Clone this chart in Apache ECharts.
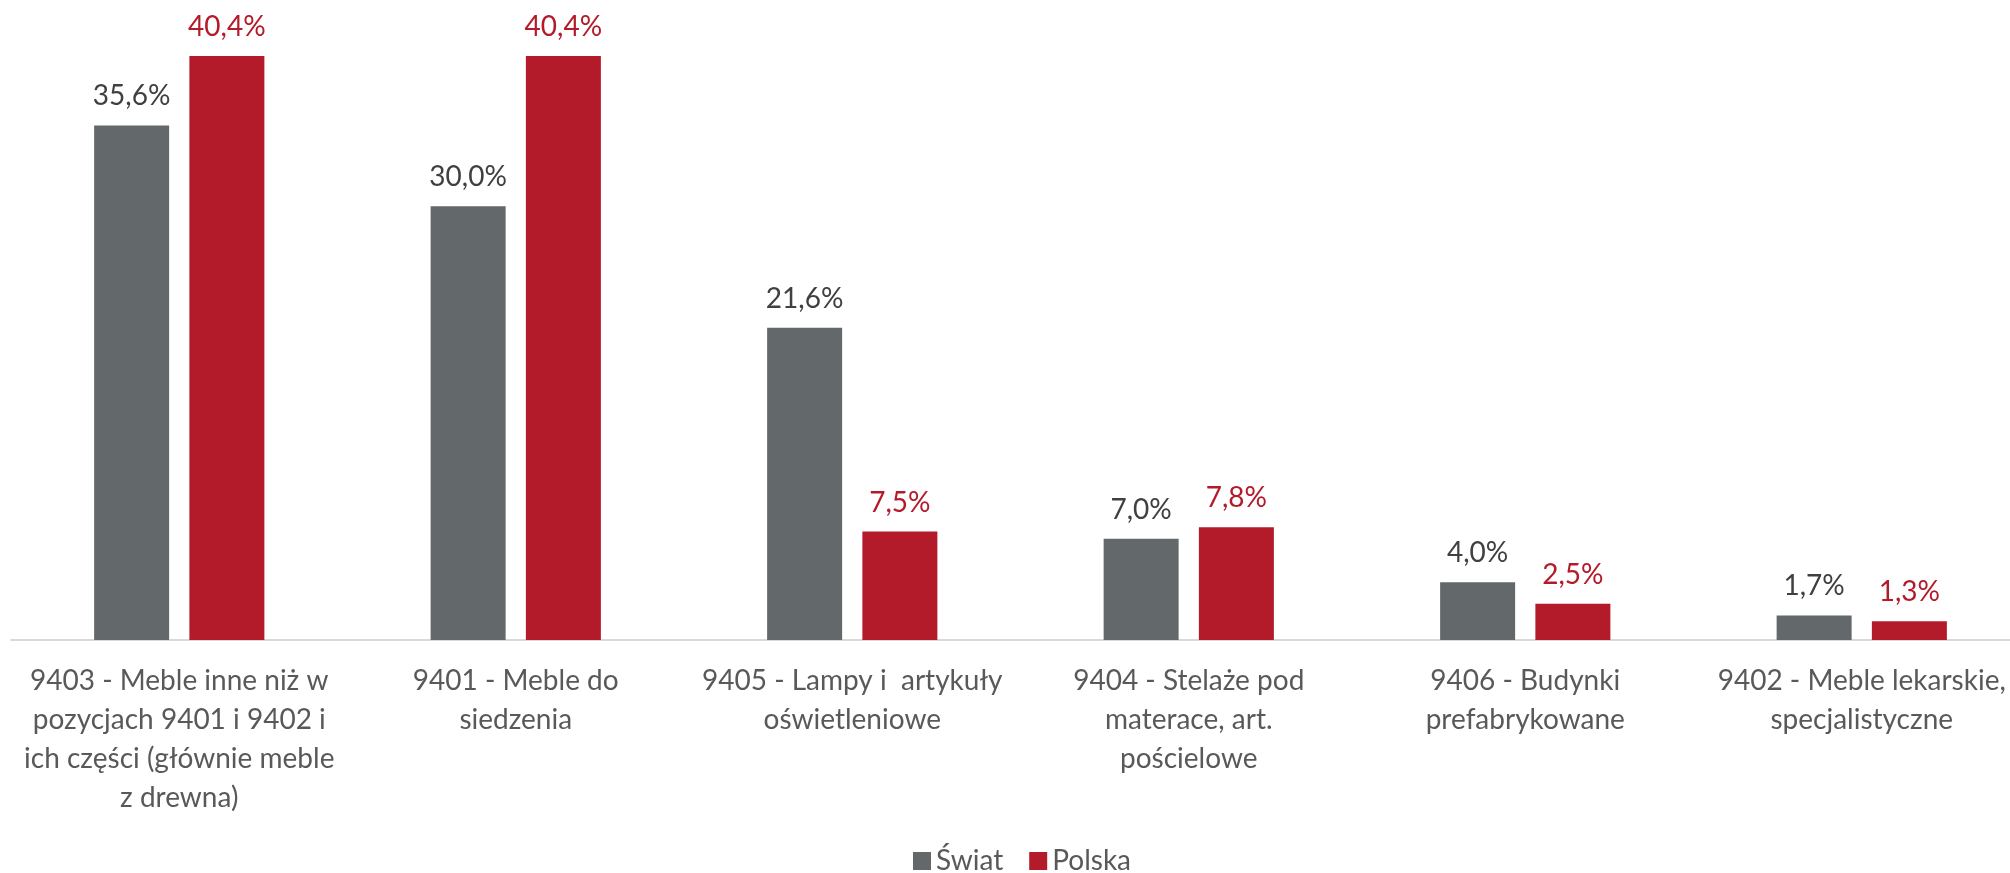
<!DOCTYPE html>
<html>
<head>
<meta charset="utf-8">
<style>
  html, body { margin: 0; padding: 0; background: #fff; }
  #chart { width: 2010px; height: 873px; }
</style>
<script src="https://cdn.jsdelivr.net/npm/echarts@6/dist/echarts.min.js"></script>
</head>
<body>
<div id="chart"></div>
<script>
  // kategorie (etykiety osi X, z ręcznym łamaniem wierszy jak w oryginale)
  const categories = [
    '9403 - Meble inne niż w\npozycjach 9401 i 9402 i\nich części (głównie meble\nz drewna)',
    '9401 - Meble do\nsiedzenia',
    '9405 - Lampy i  artykuły\noświetleniowe',
    '9404 - Stelaże pod\nmaterace, art.\npościelowe',
    '9406 - Budynki\nprefabrykowane',
    '9402 - Meble lekarskie,\nspecjalistyczne'
  ]
  const swiat = [35.6, 30.0, 21.6, 7.0, 4.0, 1.7]
  const polska = [40.4, 40.4, 7.5, 7.8, 2.5, 1.3]

  const GRAY = '#63686B'
  const RED = '#B31B2A'
  const FONT = 'Lato'

  let chart = echarts.init(document.getElementById('chart'))

  // format 35,6%
  let fmt = function (p) {
    return p.value.toFixed(1).replace('.', ',') + '%'
  }

  let option = {
    animation: false,
    textStyle: { fontFamily: FONT },
    grid: {
      left: 11,
      width: 2019,
      top: 4,
      bottom: 233,
      containLabel: false,
      outerBoundsMode: 'none'
    },
    legend: {
      data: ['Świat', 'Polska'],
      left: 908,
      top: 840,
      icon: 'rect',
      itemWidth: 18,
      itemHeight: 18,
      itemGap: 26,
      textStyle: { fontFamily: FONT, fontSize: 28, color: '#595959', lineHeight: 32 }
    },
    xAxis: {
      type: 'category',
      data: categories,
      axisLine: { show: true, lineStyle: { color: '#D9D9D9', width: 2 } },
      axisTick: { show: false },
      axisLabel: {
        interval: 0,
        margin: 21,
        fontFamily: FONT,
        fontSize: 28,
        lineHeight: 39,
        color: '#595959'
      }
    },
    yAxis: {
      type: 'value',
      min: 0,
      max: 44,
      show: false,
      splitLine: { show: false }
    },
    series: [
      {
        name: 'Świat',
        type: 'bar',
        data: swiat,
        barWidth: 75,
        barGap: '27%',
        itemStyle: { color: GRAY },
        label: {
          show: true,
          position: 'top',
          distance: 15,
          formatter: fmt,
          fontFamily: FONT,
          fontSize: 28,
          color: '#404040'
        }
      },
      {
        name: 'Polska',
        type: 'bar',
        data: polska,
        barWidth: 75,
        itemStyle: { color: RED },
        label: {
          show: true,
          position: 'top',
          distance: 15,
          formatter: fmt,
          fontFamily: FONT,
          fontSize: 28,
          color: RED
        }
      }
    ]
  }

  chart.setOption(option)
</script>
</body>
</html>
